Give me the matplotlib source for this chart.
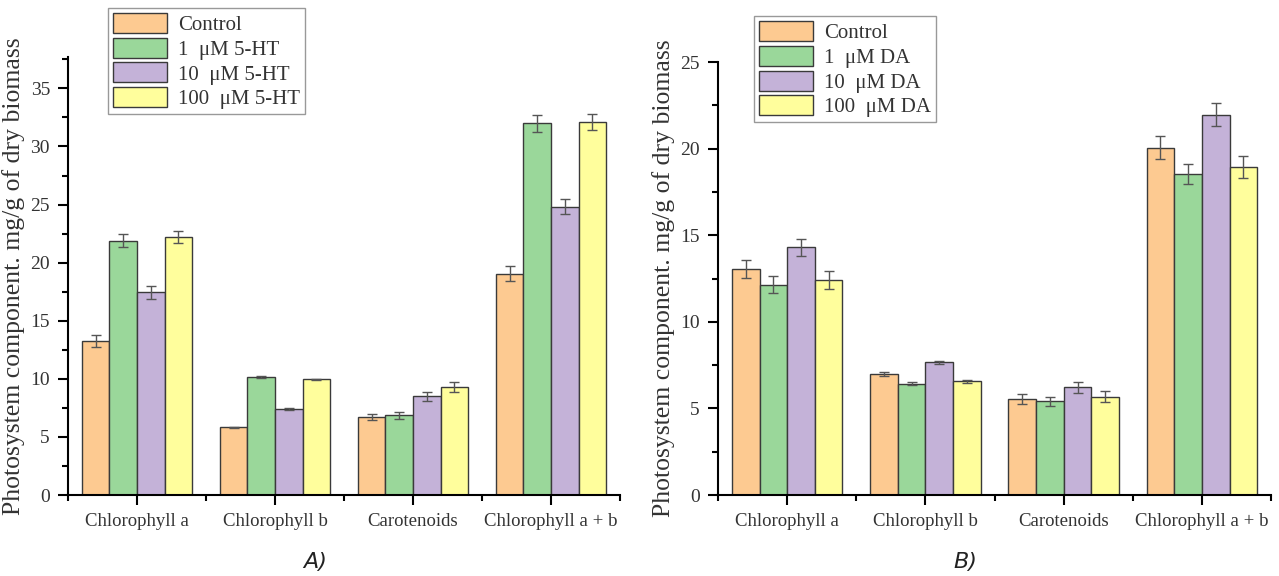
import matplotlib
matplotlib.use("Agg")
import matplotlib.pyplot as plt
import numpy as np
from matplotlib.ticker import MultipleLocator, FixedLocator

categories = ["Chlorophyll a", "Chlorophyll b", "Carotenoids", "Chlorophyll a + b"]

labels_a = ["Control", "1  \u03bcM 5-HT", "10  \u03bcM 5-HT", "100  \u03bcM 5-HT"]
vals_a = [
    [13.25, 5.82, 6.72, 19.05],   # control
    [21.9, 10.15, 6.85, 32.0],    # 1 uM
    [17.45, 7.42, 8.5, 24.8],     # 10 uM
    [22.2, 9.97, 9.27, 32.1],     # 100 uM
]
errs_a = [
    [0.52, 0.05, 0.29, 0.66],
    [0.57, 0.06, 0.30, 0.72],
    [0.55, 0.06, 0.37, 0.64],
    [0.55, 0.05, 0.42, 0.69],
]

labels_b = ["Control", "1  \u03bcM DA", "10  \u03bcM DA", "100  \u03bcM DA"]
vals_b = [
    [13.05, 7.0, 5.57, 20.05],
    [12.15, 6.43, 5.4, 18.52],
    [14.3, 7.66, 6.22, 21.97],
    [12.43, 6.56, 5.67, 18.95],
]
errs_b = [
    [0.51, 0.10, 0.29, 0.67],
    [0.50, 0.07, 0.28, 0.57],
    [0.50, 0.08, 0.31, 0.65],
    [0.52, 0.07, 0.31, 0.63],
]

colors = ["#FDCA91", "#9AD79A", "#C4B2D8", "#FFFE9C"]

SERIF = "Liberation Serif"


def draw_panel(ax, vals, errs, labels, ymax, leg_anchor, fig):
    x = np.arange(len(categories))
    w = 0.2
    handles = []
    for i, (v, e) in enumerate(zip(vals, errs)):
        h = ax.bar(x + (i - 1.5) * w, v, w, yerr=e, color=colors[i],
                   edgecolor="#3a3a3a", linewidth=1.0, label=labels[i],
                   error_kw=dict(ecolor="#555555", elinewidth=1.0,
                                 capsize=3.5, capthick=1.0))
        handles.append(h)

    ax.set_xlim(-0.5, 3.5)
    ax.set_ylim(0, ymax)
    ax.set_xticks(x)
    ax.set_xticklabels(categories, fontfamily=SERIF, fontsize=13.5,
                       color="#333333")
    ax.xaxis.set_minor_locator(FixedLocator([-0.5, 0.5, 1.5, 2.5, 3.5]))
    ax.yaxis.set_major_locator(MultipleLocator(5))
    ax.yaxis.set_minor_locator(MultipleLocator(2.5))
    for lab in ax.get_yticklabels():
        lab.set_fontfamily(SERIF)
        lab.set_fontsize(14)
        lab.set_color("#333333")
    ax.tick_params(axis="both", which="major", direction="out", length=7,
                   width=1.5, color="black", pad=6)
    ax.tick_params(axis="both", which="minor", direction="out", length=4,
                   width=1.5, color="black")
    ax.spines["top"].set_visible(False)
    ax.spines["right"].set_visible(False)
    ax.spines["left"].set_linewidth(1.5)
    ax.spines["bottom"].set_linewidth(1.5)
    ax.set_ylabel("Photosystem component. mg/g of dry biomass",
                  fontfamily=SERIF, fontsize=18.5, color="#333333", labelpad=4)

    leg = fig.legend(handles=handles, labels=labels, loc="upper left",
                     bbox_to_anchor=leg_anchor, frameon=True, fancybox=False,
                     edgecolor="#999999", framealpha=1,
                     prop=dict(family=SERIF, size=15),
                     handlelength=2.6, handleheight=1.1, handletextpad=0.5,
                     labelspacing=0.12, borderpad=0.25, borderaxespad=0)
    leg.get_frame().set_linewidth(1.0)
    for t in leg.get_texts():
        t.set_color("#333333")


fig = plt.figure(figsize=(12.79, 5.76), dpi=100)
ax1 = fig.add_axes([0.0532, 0.1406, 0.4316, 0.7604])
ax2 = fig.add_axes([0.5614, 0.1406, 0.4324, 0.7517])

draw_panel(ax1, vals_a, errs_a, labels_a, 37.7, (0.0844, 0.986), fig)
draw_panel(ax2, vals_b, errs_b, labels_b, 25, (0.5895, 0.972), fig)

fig.text(0.246, 0.024, "A)", fontsize=16, fontfamily="DejaVu Sans",
         style="italic", ha="center", va="center", color="#222222")
fig.text(0.755, 0.024, "B)", fontsize=16, fontfamily="DejaVu Sans",
         style="italic", ha="center", va="center", color="#222222")

fig.savefig("out.png", dpi=100)
